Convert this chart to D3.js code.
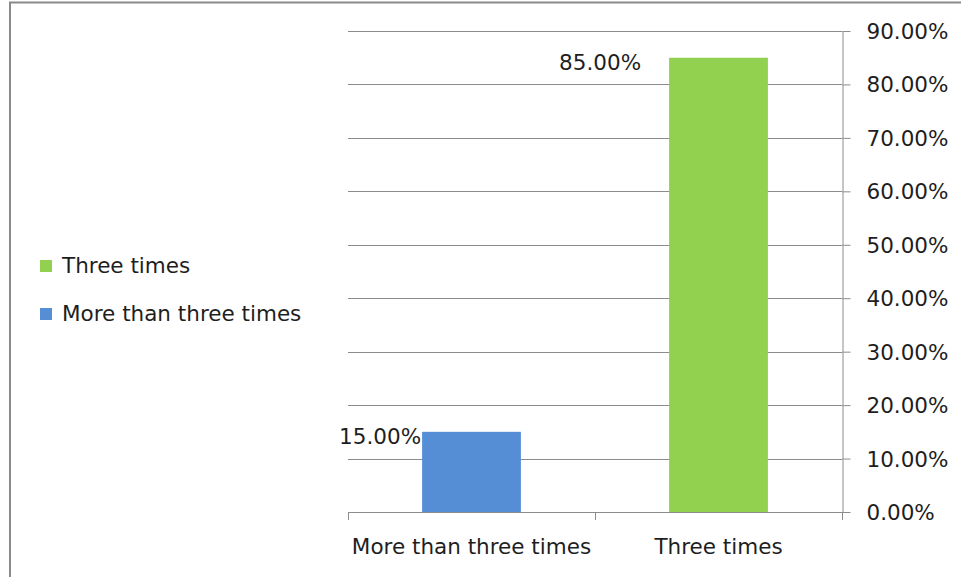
<!DOCTYPE html>
<html lang="en">
<head>
  <meta charset="UTF-8">
  <title>Frequency</title>
  <script src="https://d3js.org/d3.v7.min.js"></script>
  <style>
    body { margin: 0; background: #fff; font-family: "DejaVu Sans", sans-serif; }
    svg text { fill: #1e1e1e; }
  </style>
</head>
<body>
<svg width="961" height="577"></svg>
<script>
  const categories = ["More than three times", "Three times"];
  const values = [0.15, 0.85];
  const colors = ["#558ed5", "#92d050"];
  const legendOrder = ["Three times", "More than three times"];
  const yTicks = [0, 0.1, 0.2, 0.3, 0.4, 0.5, 0.6, 0.7, 0.8, 0.9];

  const svg = d3.select("svg");
  const plot = { left: 348, right: 842, top: 31, bottom: 512 };
  const font = "DejaVu Sans, sans-serif";
  const fontSize = 21.5;

  // frame (only top and left visible)
  svg.append("path")
    .attr("d", "M10,600 V2.5 H970")
    .attr("fill", "none")
    .attr("stroke", "#8a8a8a")
    .attr("stroke-width", 2);

  const x = d3.scaleBand().domain(categories).range([plot.left, plot.right]).padding(0);
  const y = d3.scaleLinear().domain([0, 0.9]).range([plot.bottom, plot.top]);
  const color = d3.scaleOrdinal().domain(categories).range(colors);

  // gridlines
  svg.append("g").selectAll("line")
    .data(yTicks)
    .join("line")
    .attr("x1", plot.left).attr("x2", plot.right)
    .attr("y1", d => Math.round(y(d)) + 0.5).attr("y2", d => Math.round(y(d)) + 0.5)
    .attr("stroke", "#8c8c8c");

  // right y axis
  const yAxis = svg.append("g")
    .attr("transform", `translate(${plot.right + 0.5},0)`)
    .call(d3.axisRight(y).tickValues(yTicks).tickFormat(d3.format(".2%"))
      .tickSize(8).tickSizeOuter(0).tickPadding(16));
  yAxis.select(".domain").attr("stroke", "#8c8c8c");
  yAxis.selectAll(".tick line").attr("stroke", "#8c8c8c");
  yAxis.selectAll(".tick text")
    .attr("font-family", font).attr("font-size", fontSize).attr("dy", "0.35em");

  // x axis ticks at band edges
  const edges = [plot.left, x(categories[1]), plot.right];
  svg.append("g").selectAll("line")
    .data(edges)
    .join("line")
    .attr("x1", d => Math.round(d) + 0.5).attr("x2", d => Math.round(d) + 0.5)
    .attr("y1", plot.bottom).attr("y2", plot.bottom + 8)
    .attr("stroke", "#8c8c8c");

  svg.append("g").selectAll("text")
    .data(categories)
    .join("text")
    .attr("x", d => x(d) + x.bandwidth() / 2)
    .attr("y", plot.bottom + 42)
    .attr("text-anchor", "middle")
    .attr("font-family", font)
    .attr("font-size", fontSize)
    .text(d => d);

  // bars
  const barW = x.bandwidth() * 0.4;
  svg.append("g").selectAll("rect")
    .data(categories)
    .join("rect")
    .attr("x", d => x(d) + (x.bandwidth() - barW) / 2)
    .attr("width", barW)
    .attr("y", (d, i) => y(values[i]))
    .attr("height", (d, i) => y(0) - y(values[i]))
    .attr("fill", d => color(d));

  // data labels (placed left of each bar)
  const labelShift = [1, 28];
  svg.append("g").selectAll("text")
    .data(categories)
    .join("text")
    .attr("x", (d, i) => x(d) + (x.bandwidth() - barW) / 2 - labelShift[i])
    .attr("y", (d, i) => y(values[i]) + 12)
    .attr("text-anchor", "end")
    .attr("font-family", font)
    .attr("font-size", fontSize)
    .text((d, i) => d3.format(".2%")(values[i]));

  // legend
  const legend = svg.append("g").selectAll("g")
    .data(legendOrder)
    .join("g")
    .attr("transform", (d, i) => `translate(40,${260 + i * 48})`);
  legend.append("rect")
    .attr("width", 12).attr("height", 12)
    .attr("fill", d => color(d));
  legend.append("text")
    .attr("x", 22).attr("y", 13)
    .attr("font-family", font)
    .attr("font-size", fontSize)
    .text(d => d);
</script>
</body>
</html>
